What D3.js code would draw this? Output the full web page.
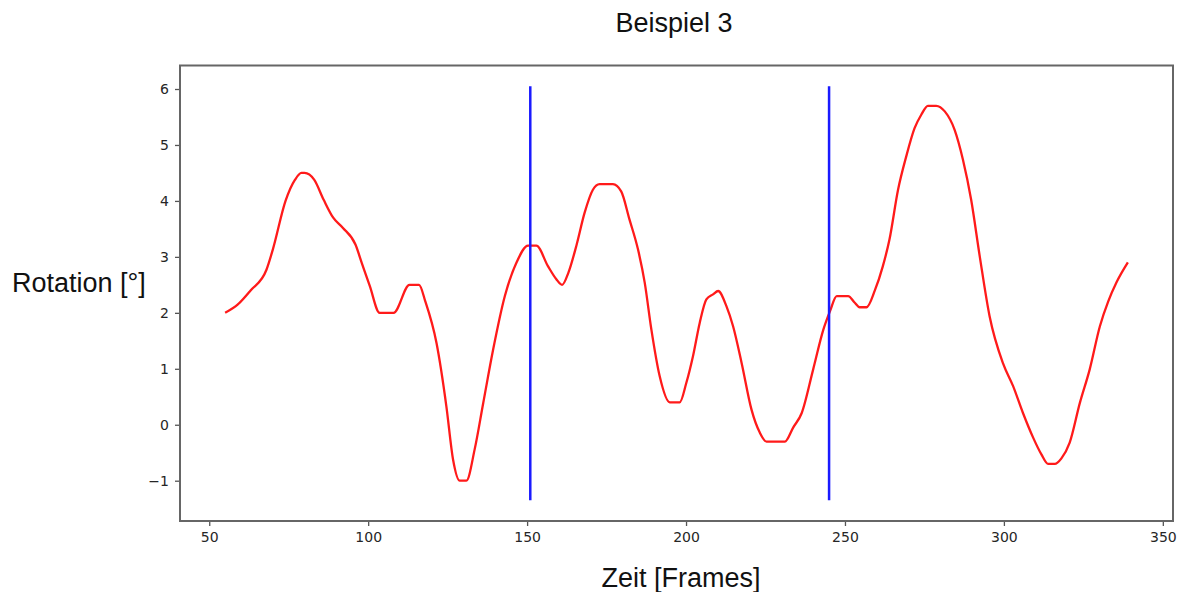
<!DOCTYPE html>
<html>
<head>
<meta charset="utf-8">
<script src="https://cdn.jsdelivr.net/npm/d3@7"></script>
<style>
  body { margin: 0; background: #fff; }
  svg { display: block; }
</style>
</head>
<body>
<svg id="chart" width="1181" height="592"></svg>
<script>
// values
const frames = [55, 59, 63, 68, 70, 74, 77, 79, 80, 83, 86, 89, 92, 96, 98, 100.5, 103.6, 108, 113, 116,
    118, 121.5, 124.6, 126.7, 128.8, 130.9, 133.5, 136.2, 139.3, 143, 146.6, 150.3, 152.9, 156.6, 159.2, 161,
    163, 165.5, 168.1, 170.7, 172.8, 177, 179.6, 182.2, 184.9, 187, 189.1, 191.7, 194.9, 198, 200.1, 202.2,
    204.3, 206.4, 208.5, 210.1, 212.7, 214.8, 217.5, 220.6, 223.2, 225.3, 231.1, 233.7, 236.4, 240, 243.2,
    245.3, 247.4, 251, 253.1, 254.6, 256.8, 259.4, 261.9, 264, 266.7, 269.3, 271.9, 274, 276.1, 278.7, 281.4,
    284.5, 287.1, 289.7, 292.4, 295.5, 299.7, 302.9, 306, 309.2, 311.8, 313.9, 316, 318.1, 320.7, 323.9, 327,
    330.2, 332.8, 335.4, 339];
const rotation = [2.0, 2.15, 2.4, 2.77, 3.13, 4.0, 4.38, 4.5, 4.5, 4.38, 4.02, 3.7, 3.52, 3.22, 2.89, 2.48, 2.0, 2.0, 2.5, 2.5,
    2.2, 1.46, 0.33, -0.62, -1.0, -1.0, -0.44, 0.39, 1.34, 2.3, 2.89, 3.2, 3.2, 2.83, 2.6, 2.5,
    2.72, 3.2, 3.79, 4.2, 4.3, 4.3, 4.17, 3.67, 3.13, 2.54, 1.7, 0.87, 0.4, 0.4, 0.75, 1.23,
    1.82, 2.24, 2.33, 2.39, 2.12, 1.76, 1.1, 0.27, -0.14, -0.3, -0.3, -0.05, 0.21, 0.99, 1.7,
    2.03, 2.3, 2.3, 2.18, 2.1, 2.1, 2.4, 2.83, 3.31, 4.2, 4.8, 5.3, 5.54, 5.7, 5.7, 5.6,
    5.27, 4.74, 4.02, 3.01, 1.94, 1.1, 0.69, 0.21, -0.23, -0.53, -0.7, -0.7, -0.6, -0.32, 0.39, 0.99,
    1.76, 2.2, 2.54, 2.9];
const markerFrames = [151, 245];
const markerSpan = [-1.35, 6.05];
const xTicks = [50, 100, 150, 200, 250, 300, 350];
const yTicks = [-1, 0, 1, 2, 3, 4, 5, 6];

const svg = d3.select("#chart");
const plot = { left: 180, right: 1173, top: 65.5, bottom: 521 };

// matplotlib style 5% padding around the data
function padded(lo, hi) {
    const m = (hi - lo) * 0.05;
    return [lo - m, hi + m];
}
const xExt = d3.extent(frames);
const yExt = d3.extent(rotation.concat(markerSpan));

const x = d3.scaleLinear().domain(padded(xExt[0], xExt[1])).range([plot.left, plot.right]);
const y = d3.scaleLinear().domain(padded(yExt[0], yExt[1])).range([plot.bottom, plot.top]);

const data = frames.map((f, i) => ({ f: f, v: rotation[i] }));

// red rotation curve
svg.append("path")
    .datum(data)
    .attr("fill", "none")
    .attr("stroke", "#ff1a1a")
    .attr("stroke-width", 2.3)
    .attr("stroke-linejoin", "round")
    .attr("d", d3.line().curve(d3.curveMonotoneX).x(d => x(d.f)).y(d => y(d.v)));

// blue markers
markerFrames.forEach(f => {
    svg.append("line")
        .attr("x1", x(f))
        .attr("x2", x(f))
        .attr("y1", y(markerSpan[0]))
        .attr("y2", y(markerSpan[1]))
        .attr("stroke", "#1a1aff")
        .attr("stroke-width", 2.5);
});

// axes
const xAxis = svg.append("g")
    .attr("transform", `translate(0,${plot.bottom})`)
    .call(d3.axisBottom(x).tickValues(xTicks).tickSize(5).tickPadding(6).tickFormat(d3.format("d")));
const yAxis = svg.append("g")
    .attr("transform", `translate(${plot.left},0)`)
    .call(d3.axisLeft(y).tickValues(yTicks).tickSize(5).tickPadding(6)
        .tickFormat(d => d < 0 ? "\u2212" + Math.abs(d) : d));

[xAxis, yAxis].forEach(g => {
    g.select(".domain").remove();
    g.selectAll(".tick line").attr("stroke", "#555").attr("stroke-width", 1.3);
    g.selectAll(".tick text")
        .attr("fill", "#262626")
        .style("font-family", "DejaVu Sans")
        .style("font-size", "14px");
});

// frame
svg.append("rect")
    .attr("x", plot.left)
    .attr("y", plot.top)
    .attr("width", plot.right - plot.left)
    .attr("height", plot.bottom - plot.top)
    .attr("fill", "none")
    .attr("stroke", "#666")
    .attr("stroke-width", 2);

// texts
svg.append("text")
    .attr("x", 674)
    .attr("y", 32)
    .attr("text-anchor", "middle")
    .style("font-family", "Liberation Sans, Arial")
    .style("font-size", "27px")
    .attr("fill", "#111")
    .text("Beispiel 3");

svg.append("text")
    .attr("x", 12)
    .attr("y", 292)
    .style("font-family", "Liberation Sans, Arial")
    .style("font-size", "27px")
    .attr("fill", "#111")
    .text("Rotation [°]");

svg.append("text")
    .attr("x", 681)
    .attr("y", 587)
    .attr("text-anchor", "middle")
    .style("font-family", "Liberation Sans, Arial")
    .style("font-size", "27px")
    .attr("fill", "#111")
    .text("Zeit [Frames]");
</script>
</body>
</html>
